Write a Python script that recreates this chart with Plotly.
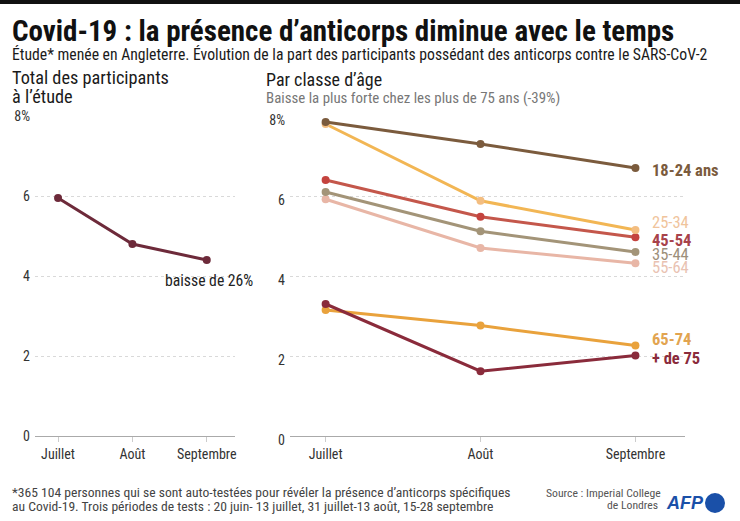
import plotly.graph_objects as go

months = ["Juillet", "Août", "Septembre"]
total_values = [5.95, 4.8, 4.4]

age_groups = ["18-24 ans", "25-34", "45-54", "35-44", "55-64", "65-74", "+ de 75"]
age_values = {
    "18-24 ans": [7.85, 7.3, 6.7],
    "25-34": [7.8, 5.88, 5.15],
    "45-54": [6.4, 5.48, 4.97],
    "35-44": [6.1, 5.12, 4.6],
    "55-64": [5.92, 4.7, 4.32],
    "65-74": [3.15, 2.76, 2.26],
    "+ de 75": [3.3, 1.62, 2.01],
}
y_ticks = [0, 2, 4, 6, 8]
y_tick_labels = ["0", "2", "4", "6", "8%"]

line_colors = {
    "18-24 ans": "#7b5b3d",
    "25-34": "#f2b654",
    "45-54": "#c4574b",
    "35-44": "#a39478",
    "55-64": "#e8b6a6",
    "65-74": "#e9a23c",
    "+ de 75": "#8a2b3b",
}
marker_colors = {
    "18-24 ans": "#7b5b3d",
    "25-34": "#f3bd80",
    "45-54": "#c4433e",
    "35-44": "#a39478",
    "55-64": "#e8b6a6",
    "65-74": "#e9a23c",
    "+ de 75": "#8a2b3b",
}
label_colors = {
    "18-24 ans": "#7b5b3d",
    "25-34": "#f0c49c",
    "45-54": "#a8424a",
    "35-44": "#9d8f7a",
    "55-64": "#e9c2b2",
    "65-74": "#e2a450",
    "+ de 75": "#8a2b3b",
}
label_shift = {
    "18-24 ans": -2,
    "25-34": 8,
    "45-54": -3,
    "35-44": -2,
    "55-64": -4,
    "65-74": 6,
    "+ de 75": -3,
}
draw_order = ["55-64", "35-44", "45-54", "25-34", "18-24 ans", "65-74", "+ de 75"]

FONT = "Liberation Sans Narrow, Roboto Condensed, Roboto, sans-serif"
W, H = 740, 521

fig = go.Figure()

fig.add_trace(go.Scatter(
    x=months, y=total_values, mode="lines+markers",
    line=dict(color="#6d2a3a", width=3),
    marker=dict(color="#6d2a3a", size=8),
    xaxis="x", yaxis="y", cliponaxis=False, showlegend=False, hoverinfo="skip",
))

for g in draw_order:
    fig.add_trace(go.Scatter(
        x=months, y=age_values[g], mode="lines+markers",
        line=dict(color=line_colors[g], width=3),
        marker=dict(color=marker_colors[g], size=8),
        xaxis="x2", yaxis="y2", cliponaxis=False, showlegend=False, hoverinfo="skip",
    ))

y0_px, y8_px = 436, 116
ydom = [(H - y0_px) / H, (H - y8_px) / H]

axis_common = dict(
    type="category", showgrid=False, showline=True, linecolor="#aaaaaa", linewidth=1,
    ticks="outside", ticklen=5, tickcolor="#cccccc",
    tickfont=dict(family=FONT, size=14, color="#333333"),
    zeroline=False, fixedrange=True, automargin=False,
)
yaxis_common = dict(
    range=[0, 8], tickvals=y_ticks, ticktext=y_tick_labels,
    showgrid=True, gridcolor="#d9d9d9", griddash="dot", gridwidth=1,
    zeroline=False, showline=False, ticks="",
    tickfont=dict(family=FONT, size=14, color="#333333"),
    ticklabelstandoff=4, fixedrange=True, automargin=False,
)

fig.update_layout(
    width=W, height=H, autosize=False,
    margin=dict(l=0, r=0, t=0, b=0, pad=0),
    paper_bgcolor="white", plot_bgcolor="white",
    xaxis=dict(domain=[35 / W, 235 / W], range=[-0.31, 2.38], anchor="y", **axis_common),
    yaxis=dict(domain=ydom, anchor="x", ticklabelshift=0, **yaxis_common),
    xaxis2=dict(domain=[290 / W, 685 / W], range=[-0.23, 2.32], anchor="y2", **axis_common),
    yaxis2=dict(domain=ydom, anchor="x2", ticklabelshift=4, **yaxis_common),
    font=dict(family=FONT, color="#222222"),
)

# Top black bar
fig.add_shape(type="rect", xref="paper", yref="paper", x0=0, x1=1, y0=1 - 4 / H, y1=1,
              fillcolor="#111111", line=dict(width=0))

def ptext(text, x, y, size, color="#222222", xanchor="left", yanchor="middle", bold=False, align="left"):
    fig.add_annotation(
        text=f"<b>{text}</b>" if bold else text,
        xref="paper", yref="paper", x=x / W, y=1 - y / H,
        xanchor=xanchor, yanchor=yanchor, align=align, showarrow=False,
        font=dict(family=FONT, size=size, color=color),
    )

ptext("Covid-19 : la présence d’anticorps diminue avec le temps", 10, 31, 29, "#111111", bold=True)
ptext("Étude* menée en Angleterre. Évolution de la part des participants possédant des anticorps contre le SARS-CoV-2", 10, 54.5, 15.7, "#1a1a1a")
ptext("Total des participants", 10, 77, 18.3, "#1a1a1a")
ptext("à l’étude", 10, 96, 18.3, "#1a1a1a")
ptext("Par classe d’âge", 264, 79, 18, "#1a1a1a")
ptext("Baisse la plus forte chez les plus de 75 ans (-39%)", 264, 98, 14.9, "#777777")

ptext("*365 104 personnes qui se sont auto-testées pour révéler la présence d’anticorps spécifiques", 10, 492, 13.6, "#444444")
ptext("au Covid-19. Trois périodes de tests : 20 juin- 13 juillet, 31 juillet-13 août, 15-28 septembre", 10, 506, 13.6, "#444444")
ptext("Source : Imperial College", 663, 493, 11.7, "#555555", xanchor="right")
ptext("de Londres", 660, 505, 11.7, "#555555", xanchor="right")

# AFP logo
fig.add_annotation(text="<b><i>AFP</i></b>", xref="paper", yref="paper", x=706 / W, y=1 - 503 / H,
                   xanchor="right", yanchor="middle", showarrow=False,
                   font=dict(family="Liberation Sans, Arial, sans-serif", size=18, color="#1a50a8"))
fig.add_shape(type="circle", xref="paper", yref="paper",
              x0=705 / W, x1=725 / W, y0=1 - 513 / H, y1=1 - 493 / H,
              fillcolor="#1a50a8", line=dict(width=0))

# Left annotation
fig.add_annotation(text="baisse de 26%", xref="x", yref="y", x=months[-1], y=total_values[-1],
                   xanchor="center", yanchor="middle", yshift=-20, xshift=2, showarrow=False,
                   font=dict(family=FONT, size=15.7, color="#222222"))

# Right-side labels
for g in age_groups:
    fig.add_annotation(text=f"<b>{g}</b>" if g in ("18-24 ans", "+ de 75", "65-74", "45-54") else g,
                       xref="x2", yref="y2", x=months[-1], y=age_values[g][-1],
                       xanchor="left", yanchor="middle", xshift=15, yshift=label_shift[g],
                       showarrow=False,
                       font=dict(family=FONT, size=16.5, color=label_colors[g]))

fig.write_html("out.html", config={"displayModeBar": False},
               post_script="document.body.style.margin='0';document.body.style.overflow='hidden';")
